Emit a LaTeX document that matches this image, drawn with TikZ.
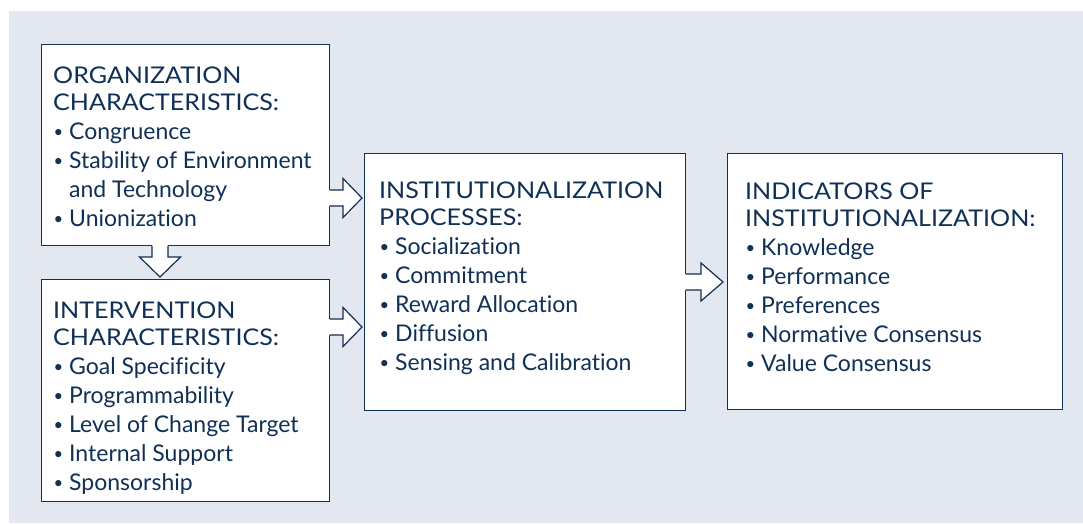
\documentclass[tikz,border=0pt]{standalone}
\usepackage{fontspec}
\setmainfont{Lato}[Ligatures=NoCommon]
\usetikzlibrary{calc}
\definecolor{navy}{RGB}{16,48,86}
\definecolor{bgc}{RGB}{227,231,240}
\newcommand\bul{\makebox[16pt][l]{\hspace{0.5pt}\raisebox{2pt}{\scalebox{0.72}{•}}}}
\newcommand\hd[1]{\scalebox{1.09}[1]{#1}}
\newcommand\blockH[4]{%
  \fill[white] ($(#1)+(-1.5,-8)$) -- ($(#2)+(-#3,-8)$) -- ($(#2)+(-#3,-#4)$) -- (#2) -- ($(#2)+(-#3,#4)$) -- ($(#2)+(-#3,8)$) -- ($(#1)+(-1.5,8)$) -- cycle;
  \draw[arr] ($(#1)+(-0.6,-8)$) -- ($(#2)+(-#3,-8)$) -- ($(#2)+(-#3,-#4)$) -- (#2) -- ($(#2)+(-#3,#4)$) -- ($(#2)+(-#3,8)$) -- ($(#1)+(-0.6,8)$);}
\newcommand\blockV[4]{%
  \fill[white] ($(#1)+(-8,-1.5)$) -- ($(#2)+(-8,-#3)$) -- ($(#2)+(-#4,-#3)$) -- (#2) -- ($(#2)+(#4,-#3)$) -- ($(#2)+(8,-#3)$) -- ($(#1)+(8,-1.5)$) -- cycle;
  \draw[arr] ($(#1)+(-8,-0.6)$) -- ($(#2)+(-8,-#3)$) -- ($(#2)+(-#4,-#3)$) -- (#2) -- ($(#2)+(#4,-#3)$) -- ($(#2)+(8,-#3)$) -- ($(#1)+(8,-0.6)$);}
\begin{document}
\begin{tikzpicture}[x=1pt,y=-1pt,
  box/.style={draw=navy,line width=1.2pt,fill=white,inner sep=0pt,anchor=north west},
  txt/.style={anchor=north west,inner sep=0pt,align=left,text=navy,font=\fontsize{23}{29}\selectfont},
  arr/.style={draw=navy,line width=1.2pt,line join=miter}]
\useasboundingbox (0,0) rectangle (1083,523);
\fill[bgc] (9,11) rectangle (1083,523);
% boxes
\node[box,minimum width=288pt,minimum height=201pt] (b1) at (41,44) {};
\node[box,minimum width=288pt,minimum height=222pt] (b2) at (41,279) {};
\node[box,minimum width=321pt,minimum height=257pt] (b3) at (364,153) {};
\node[box,minimum width=335pt,minimum height=256pt] (b4) at (727,153) {};
% texts
\node[txt] (t1) at (53,66.7) {\hd{ORGANIZATION}\\[-2pt]\hd{CHARACTERISTICS:}\\\bul Congruence\\\bul Stability of Environment\\\hspace*{16pt}and Technology\\\bul Unionization};
\node[txt] (t2) at (53,302) {\hd{INTERVENTION}\\[-2pt]\hd{CHARACTERISTICS:}\\\bul Goal Specificity\\\bul Programmability\\\bul Level of Change Target\\\bul Internal Support\\\bul Sponsorship};
\node[txt] (t3) at (379,182) {\hd{INSTITUTIONALIZATION}\\[-2pt]\hd{PROCESSES:}\\\bul Socialization\\\bul Commitment\\\bul Reward Allocation\\\bul Diffusion\\\bul Sensing and Calibration};
\node[txt] (t4) at (745,182.5) {\hd{INDICATORS OF}\\[-2pt]\hd{INSTITUTIONALIZATION:}\\\bul Knowledge\\\bul Performance\\\bul Preferences\\\bul Normative Consensus\\\bul Value Consensus};
% arrows
\coordinate (a1s) at (b1.east |- 0,198);
\coordinate (a1t) at ([xshift=-2pt]b3.west |- 0,198);
\coordinate (a2s) at (b2.east |- 0,327);
\coordinate (a2t) at ([xshift=-2pt]b3.west |- 0,327);
\coordinate (a3s) at (b3.east |- 0,282);
\coordinate (a3t) at ([xshift=-4pt]b4.west |- 0,282);
\coordinate (a4s) at (b1.south -| 160,0);
\coordinate (a4t) at ([yshift=2pt]b2.north -| 160,0);
\blockH{a1s}{a1t}{19}{19.5}
\blockH{a2s}{a2t}{19}{19.5}
\blockH{a3s}{a3t}{22}{19}
\blockV{a4s}{a4t}{20}{20.5}
\end{tikzpicture}
\end{document}
